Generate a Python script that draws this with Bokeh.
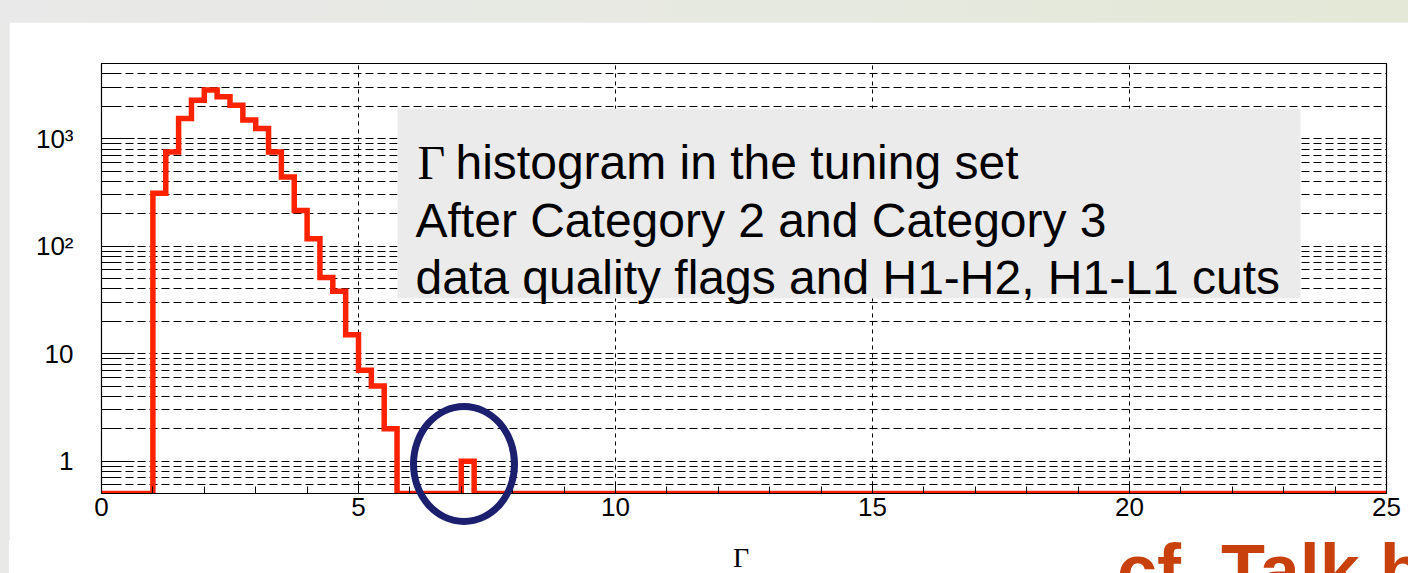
import numpy as np
from bokeh.plotting import figure
from bokeh.models import (FixedTicker, SingleIntervalTicker, Label, BoxAnnotation, Range1d, Div)
from bokeh.layouts import column
from bokeh.embed import file_html
from bokeh.resources import INLINE

# ---------------- data ----------------
bin_width = 0.25
x_lo, x_hi = 0.0, 25.0
y_lo, y_hi = 0.5, 5000.0
# histogram counts, bins of 0.25 starting at 0
counts = ([0, 0, 0, 0,
           310, 750, 1540, 2280, 2830, 2450, 2050, 1490, 1240, 750, 440, 215,
           117, 51, 38, 15, 7, 5, 2,
           0, 0, 0, 0, 0,
           1] + [0] * 71)

y_major = [1, 10, 100, 1000]
y_major_labels = ["1", "10", "10\u00b2", "10\u00b3"]
y_minor = [0.6, 0.7, 0.8, 0.9,
           2, 3, 4, 5, 6, 7, 8, 9,
           20, 30, 40, 50, 60, 70, 80, 90,
           200, 300, 400, 500, 600, 700, 800, 900,
           2000, 3000, 4000, 5000]

info_lines = ["histogram in the tuning set",
              "After Category 2 and Category 3",
              "data quality flags and H1-H2, H1-L1 cuts"]
x_title = "\u0393"
slide_note = "cf. Talk by"

# ---------------- page geometry (pixels in the page) ----------------
PAGE_W = 1408
BAND_H = 22          # grey slide band on top
LEFT_M = 9           # grey slide strip on the left
FIG_H = 518
BOT_H = 33
FIG_W = PAGE_W - LEFT_M
FL, FR, FT, FB = 101, 1386, 63, 493   # plot frame in page pixels


def px2x(px):
    return x_lo + (px - FL) / (FR - FL) * (x_hi - x_lo)


def px2y(py):
    l0, l1 = np.log10(y_lo), np.log10(y_hi)
    return float(10 ** (l0 + (FB - py) / (FB - FT) * (l1 - l0)))


p = figure(width=FIG_W, height=FIG_H, x_range=Range1d(x_lo, x_hi), y_range=Range1d(y_lo, y_hi),
           y_axis_type="log", output_backend="svg", toolbar_location=None,
           min_border_left=FL - LEFT_M, min_border_right=PAGE_W - FR,
           min_border_top=FT - BAND_H, min_border_bottom=(BAND_H + FIG_H) - FB,
           margin=(0, 0, 0, LEFT_M))
p.background_fill_color = "white"
p.border_fill_color = "white"
p.outline_line_color = "black"
p.outline_line_width = 1.2

# y axis
ya = p.yaxis[0]
ya.ticker = FixedTicker(ticks=y_major, minor_ticks=y_minor)
ya.major_label_overrides = {float(k): v for k, v in zip(y_major, y_major_labels)}
ya.major_tick_in = 33
ya.major_tick_out = 0
ya.minor_tick_in = 18
ya.minor_tick_out = 0
ya.major_tick_line_color = "black"
ya.minor_tick_line_color = "black"
ya.axis_line_color = "black"
ya.major_label_standoff = 28
ya.major_label_text_font = "Liberation Sans"
ya.major_label_text_font_size = "26px"
ya.major_label_text_color = "black"

# x axis
xa = p.xaxis[0]
xa.ticker = SingleIntervalTicker(interval=5, num_minor_ticks=5)
xa.major_tick_in = 12
xa.major_tick_out = 0
xa.minor_tick_in = 7
xa.minor_tick_out = 0
xa.major_tick_line_color = "black"
xa.minor_tick_line_color = "black"
xa.axis_line_color = "black"
xa.major_label_standoff = 4
xa.major_label_text_font = "Liberation Sans"
xa.major_label_text_font_size = "26px"
xa.major_label_text_color = "black"

# grids
p.ygrid.grid_line_color = "black"
p.ygrid.grid_line_dash = "8 4"
p.ygrid.grid_line_width = 1
p.ygrid.minor_grid_line_color = "black"
p.ygrid.minor_grid_line_dash = "8 4"
p.ygrid.minor_grid_line_width = 1
p.xgrid.grid_line_color = "black"
p.xgrid.grid_line_dash = "4 4"
p.xgrid.grid_line_width = 1

# histogram (zero bins drawn at the axis minimum as ROOT does on a log scale)
counts_arr = np.array(counts, dtype=float)
plot_counts = np.where(counts_arr > 0, counts_arr, y_lo)
edges = x_lo + bin_width * np.arange(len(counts) + 1)
xs = np.repeat(edges, 2)[1:-1]
ys = np.repeat(plot_counts, 2)
p.line(xs, ys, line_color="#ff2200", line_width=5.5, line_join="miter")

# information box
p.add_layout(BoxAnnotation(left=px2x(397), right=px2x(1300), top=px2y(108), bottom=px2y(298),
                           fill_color="#ebebeb", fill_alpha=1.0, line_alpha=0.0))
p.add_layout(Label(x=px2x(417), y=px2y(162), text="\u0393", text_font="Liberation Serif",
                   text_font_size="48px", text_baseline="alphabetic", text_align="left",
                   text_color="black"))
p.add_layout(Label(x=px2x(455), y=px2y(162), text=info_lines[0], text_font="Liberation Sans",
                   text_font_size="48px", text_baseline="alphabetic", text_align="left",
                   text_color="black"))
p.add_layout(Label(x=px2x(415), y=px2y(220), text=info_lines[1], text_font="Liberation Sans",
                   text_font_size="48px", text_baseline="alphabetic", text_align="left",
                   text_color="black"))
p.add_layout(Label(x=px2x(415), y=px2y(277), text=info_lines[2], text_font="Liberation Sans",
                   text_font_size="48px", text_baseline="alphabetic", text_align="left",
                   text_color="black"))

# ---------------- slide elements around the plot ----------------
ring_l, ring_t, ring_w, ring_h = 410, 403, 108, 122   # page pixels, outer box of the ring
bot_top = BAND_H + FIG_H
bottom_html = (
    f'<div style="position:relative;width:{FIG_W}px;height:{BOT_H}px;">'
    f'<div style="position:absolute;left:{ring_l - LEFT_M}px;top:{ring_t - bot_top}px;'
    f'width:{ring_w}px;height:{ring_h}px;box-sizing:border-box;border:7px solid #1b1f6e;'
    f'border-radius:50%;z-index:10;"></div>'
    f'<div style="position:absolute;left:0;top:0;width:{FIG_W}px;height:{BOT_H}px;overflow:hidden;">'
    f'<span style="position:absolute;left:{741 - LEFT_M}px;top:4px;transform:translateX(-50%);'
    f'font-family:\'Liberation Serif\';font-size:28px;line-height:1;color:black;white-space:nowrap;">'
    f'{x_title}</span>'
    f'<span style="position:absolute;left:{1117 - LEFT_M}px;top:-6px;font-family:\'Liberation Sans\';'
    f'font-weight:bold;font-size:72px;line-height:1;color:#c8400c;white-space:nowrap;">'
    f'{slide_note}</span>'
    f'</div></div>'
)
bottom = Div(text=bottom_html, width=FIG_W, height=BOT_H, margin=(0, 0, 0, LEFT_M),
             styles={"background-color": "white", "overflow": "visible"})
band = Div(text="", width=PAGE_W, height=BAND_H, margin=(0, 0, 0, 0),
           styles={"background": "linear-gradient(to right, #e9e9e9, #e6e9df 60%, #e3e8d6)"})

layout = column(band, p, bottom, spacing=0, width=PAGE_W,
                styles={"background-color": "#e9eae7"})

open("out.html", "w").write(file_html(layout, INLINE))
